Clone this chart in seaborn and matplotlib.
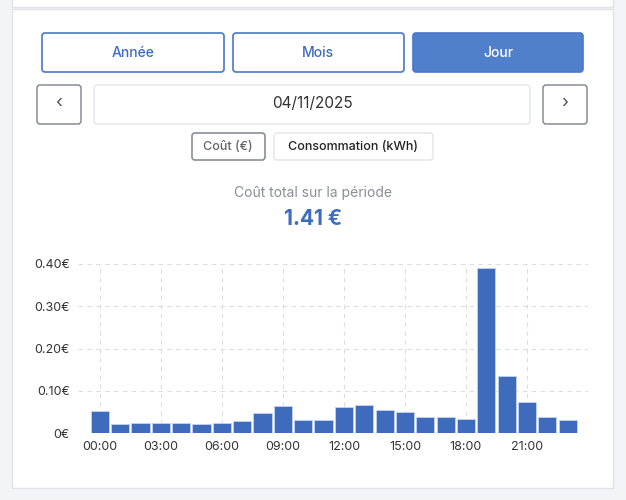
import matplotlib
matplotlib.use("Agg")
import matplotlib.pyplot as plt
import seaborn as sns
import pandas as pd
from matplotlib.patches import FancyBboxPatch, Rectangle
from matplotlib.ticker import FuncFormatter

hours = [f"{h:02d}:00" for h in range(24)]
costs = [0.052, 0.022, 0.023, 0.024, 0.023, 0.021, 0.023, 0.028, 0.047, 0.065,
         0.031, 0.031, 0.061, 0.067, 0.055, 0.050, 0.039, 0.037, 0.032, 0.391,
         0.136, 0.073, 0.037, 0.031]
tick_labels = ["00:00", "03:00", "06:00", "09:00", "12:00", "15:00", "18:00", "21:00"]
y_ticks = [0, 0.1, 0.2, 0.3, 0.4]
total_label = "1.41 €"

sns.set_style("white")
plt.rcParams['font.family'] = ['Inter', 'DejaVu Sans']

W, H = 626, 500
fig = plt.figure(figsize=(W / 100, H / 100), dpi=100)
fig.patch.set_facecolor("#f3f4f7")

ui = fig.add_axes([0, 0, 1, 1], zorder=0)
ui.set_xlim(0, W); ui.set_ylim(H, 0); ui.axis("off")

def box(x0, y0, x1, y1, fc="white", ec="#d0d4dc", lw=1.0, r=3):
    ui.add_patch(FancyBboxPatch((x0, y0), x1 - x0, y1 - y0,
                                boxstyle=f"round,pad=0,rounding_size={r}",
                                fc=fc, ec=ec, lw=lw))

# cards
ui.add_patch(Rectangle((12, -10), 601, 17, fc="white", ec="#dfe2e8", lw=1))
ui.add_patch(Rectangle((12, 9), 601, 479, fc="white", ec="#dfe2e8", lw=1))

blue = "#3d6cc2"
box(42, 33, 224, 72, ec="#4a78c8", lw=1.2)
ui.text(133, 53, "Année", ha="center", va="center", color=blue, fontsize=10, fontweight="medium")
box(233, 33, 404, 72, ec="#4a78c8", lw=1.2)
ui.text(318, 53, "Mois", ha="center", va="center", color=blue, fontsize=10, fontweight="medium")
box(413, 33, 583, 72, fc="#5080cc", ec="#4a78c8", lw=1.2)
ui.text(498, 53, "Jour", ha="center", va="center", color="white", fontsize=10, fontweight="medium")

box(37, 85, 81, 124, ec="#7c8088", lw=1.0)
ui.text(59, 104, "‹", ha="center", va="center", color="#555", fontsize=13)
box(94, 85, 530, 124, ec="#e2e5ea", lw=1.0)
ui.text(312, 104, "04/11/2025", ha="center", va="center", color="#333", fontsize=11)
box(543, 85, 587, 124, ec="#7c8088", lw=1.0)
ui.text(565, 104, "›", ha="center", va="center", color="#555", fontsize=13)

box(192, 133, 265, 160, ec="#8a8e96", lw=1.2)
ui.text(228, 147, "Coût (€)", ha="center", va="center", color="#666", fontsize=9, fontweight="medium")
box(274, 133, 433, 160, ec="#e2e5ea", lw=1.0)
ui.text(353, 147, "Consommation (kWh)", ha="center", va="center", color="#222", fontsize=9, fontweight="medium")

ui.text(313, 193, "Coût total sur la période", ha="center", va="center", color="#8a8e96", fontsize=10)
ui.text(313, 219, total_label, ha="center", va="center", color=blue, fontsize=15, fontweight="bold")

# chart
ax = fig.add_axes([78 / W, 67 / H, (588 - 78) / W, 169 / H], zorder=1)
ax.patch.set_alpha(0)
df = pd.DataFrame({"hour": hours, "cost": costs})
sns.barplot(data=df, x="hour", y="cost", color="#3f6bbd", saturation=1,
            width=0.9, edgecolor="#c5d3ee", linewidth=0.6, ax=ax)
ax.set_xlim(-1.08, 24)
ax.set_ylim(0, 0.40)
ax.set_yticks(y_ticks)
ax.yaxis.set_major_formatter(FuncFormatter(lambda v, p: "0€" if v == 0 else f"{v:.2f}€"))
ax.set_xticks(list(range(0, 24, 3)))
ax.set_xticklabels(tick_labels)
ax.set_xlabel(""); ax.set_ylabel("")
ax.grid(True, color="#dddddd", linestyle=(0, (4, 4)), linewidth=0.8)
ax.set_axisbelow(True)
for s in ax.spines.values():
    s.set_visible(False)
ax.tick_params(axis="both", length=0, labelsize=9, colors="#333", pad=6)

fig.savefig("out.png", dpi=100)
